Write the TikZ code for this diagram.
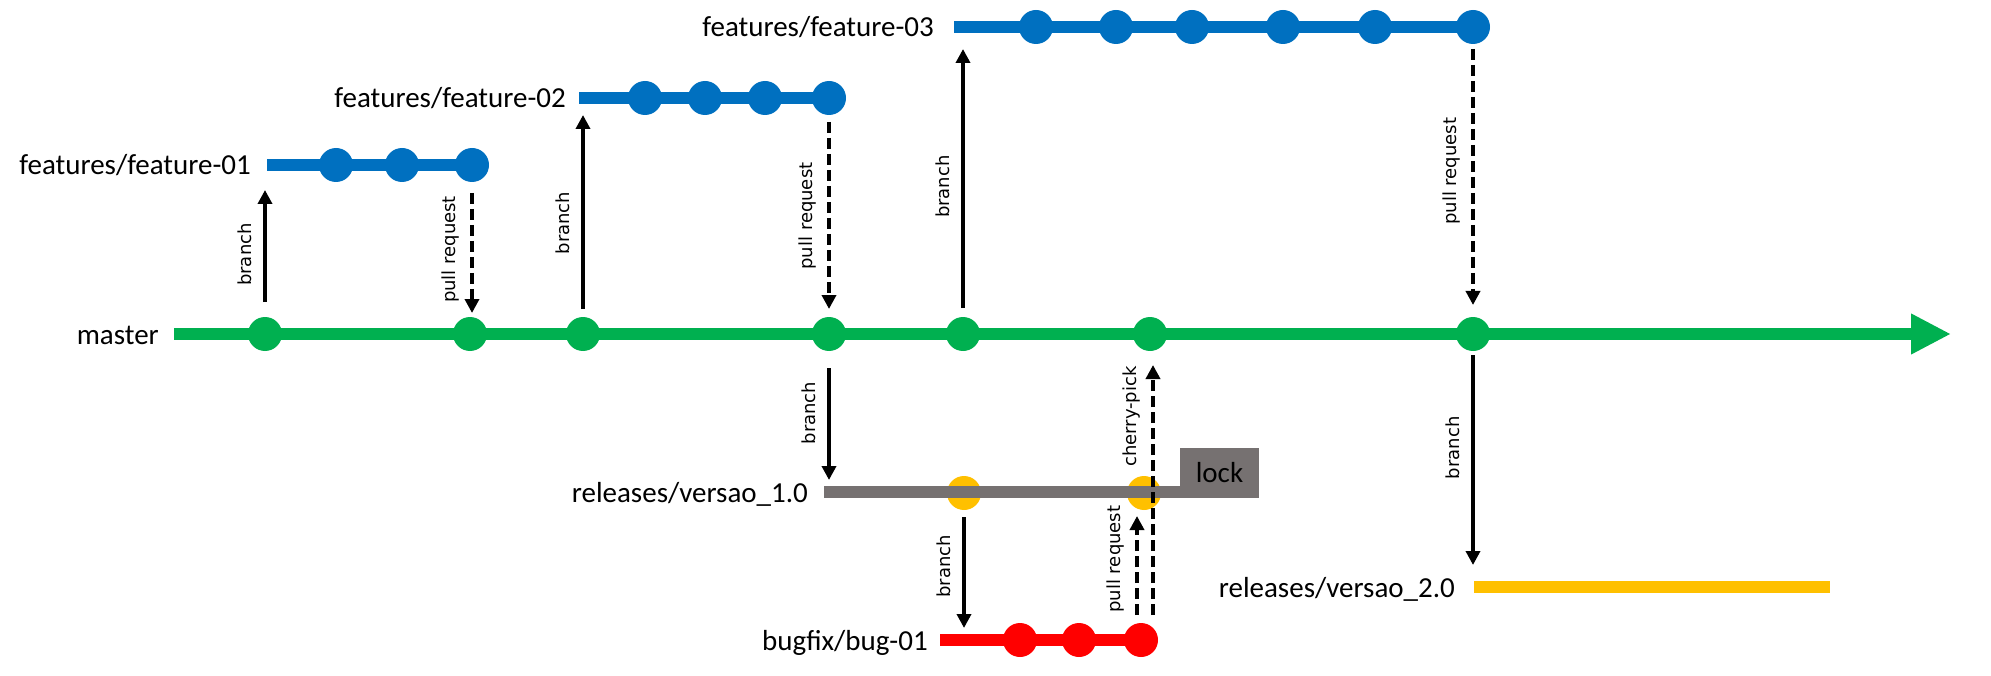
\documentclass[tikz,border=0pt]{standalone}
\usepackage{fontspec}
\setmainfont{Carlito}
\newfontfamily\lblfont{DejaVu Sans}
\usetikzlibrary{arrows.meta, positioning, calc}
\definecolor{gitgreen}{HTML}{00B050}
\definecolor{gitblue}{HTML}{0070C0}
\definecolor{gitred}{HTML}{FF0000}
\definecolor{gityellow}{HTML}{FFC000}
\definecolor{gitgrey}{HTML}{767171}

\begin{document}
\begin{tikzpicture}[x=1pt, y=-1pt,
    dot/.style={circle, inner sep=0pt, minimum size=34pt},
    brname/.style={anchor=base east, inner sep=0pt, font=\fontsize{29}{33}\selectfont},
    lbl/.style={rotate=90, anchor=south, inner xsep=0pt, inner ysep=11pt, font=\lblfont\fontsize{18}{21}\selectfont},
    brarr/.style={line width=4pt, -{Triangle[width=14pt,length=14pt]}},
    prarr/.style={brarr, dash pattern=on 11pt off 5pt}]
    \useasboundingbox (0,0) rectangle (1991,676);

    % master
    \coordinate (ms) at (174,334);
    \coordinate (me) at (1951,334);
    \draw[gitgreen, line width=12pt, -{Triangle[width=38pt,length=40pt]}] (ms) -- (me);
    \foreach \x [count=\i] in {265,470,583,829,963,1150,1473}
        \node[dot, fill=gitgreen] (m\i) at (\x,334) {};
    \node[brname] (mname) at ([xshift=-15pt,yshift=-10pt]ms) {master};

    % features/feature-01
    \coordinate (f1s) at (267,165);
    \foreach \x [count=\i] in {336,402,472}
        \node[dot, fill=gitblue] (fa\i) at (\x,165) {};
    \draw[gitblue, line width=12pt] (f1s) -- (fa3.center);
    \node[brname] (f1name) at ([xshift=-16pt,yshift=-10pt]f1s) {features/feature-01};

    % features/feature-02
    \coordinate (f2s) at (579,98);
    \foreach \x [count=\i] in {645,705,765,829}
        \node[dot, fill=gitblue] (fb\i) at (\x,98) {};
    \draw[gitblue, line width=12pt] (f2s) -- (fb4.center);
    \node[brname] (f2name) at ([xshift=-13pt,yshift=-10pt]f2s) {features/feature-02};

    % features/feature-03
    \coordinate (f3s) at (954,27);
    \foreach \x [count=\i] in {1036,1116,1192,1283,1375,1473}
        \node[dot, fill=gitblue] (fc\i) at (\x,27) {};
    \draw[gitblue, line width=12pt] (f3s) -- (fc6.center);
    \node[brname] (f3name) at ([xshift=-20pt,yshift=-10pt]f3s) {features/feature-03};

    % releases/versao_1.0 (dots under the line)
    \coordinate (r1s) at (824,492);
    \coordinate (r1e) at (1184,492);
    \foreach \x [count=\i] in {964,1144}
        \node[dot, fill=gityellow] (ra\i) at (\x,493) {};
    \draw[gitgrey, line width=12pt] (r1s) -- (r1e);
    \node[brname] (r1name) at ([xshift=-16pt,yshift=-10pt]r1s) {releases/versao\_1.0};
    \node[fill=gitgrey, minimum width=79pt, minimum height=50pt, inner sep=0pt,
        font=\fontsize{29}{33}\selectfont] (lock) at (1219.5,473) {lock};

    % bugfix/bug-01
    \coordinate (bs) at (940,640);
    \foreach \x [count=\i] in {1020,1079,1141}
        \node[dot, fill=gitred] (ba\i) at (\x,640) {};
    \draw[gitred, line width=12pt] (bs) -- (ba3.center);
    \node[brname] (bname) at ([xshift=-12pt,yshift=-10pt]bs) {bugfix/bug-01};

    % releases/versao_2.0
    \coordinate (r2s) at (1474,587);
    \coordinate (r2e) at (1830,587);
    \draw[gityellow, line width=12pt] (r2s) -- (r2e);
    \node[brname] (r2name) at ([xshift=-19pt,yshift=-10pt]r2s) {releases/versao\_2.0};

    % branch / pull request arrows
    \draw[brarr, shorten <=32pt, shorten >=25pt] (m1.center) -- (m1.center |- f1s) node[lbl, pos=0.47] {branch};
    \draw[prarr, shorten <=28pt, shorten >=21pt] (fa3.center) -- (fa3.center |- m2) node[lbl, midway] {pull request};
    \draw[brarr, shorten <=25pt, shorten >=17pt] (m3.center) -- (m3.center |- f2s) node[lbl, pos=0.47] {branch};
    \draw[prarr, shorten <=24pt, shorten >=25pt] (fb4.center) -- (fb4.center |- m4) node[lbl, midway] {pull request};
    \draw[brarr, shorten <=26pt, shorten >=22pt] (m5.center) -- (m5.center |- f3s) node[lbl, pos=0.48] {branch};
    \draw[prarr, shorten <=22pt, shorten >=29pt] (fc6.center) -- (fc6.center |- m7) node[lbl, pos=0.47] {pull request};
    \draw[brarr, shorten <=34pt, shorten >=12pt] (m4.center) -- (m4.center |- r1s) node[lbl, midway] {branch};
    \draw[brarr, shorten <=24pt, shorten >=12pt] (ra1.center) -- (ra1.center |- bs) node[lbl, midway] {branch};
    \draw[brarr, shorten <=21pt, shorten >=22pt] (m7.center) -- (m7.center |- r2s) node[lbl, pos=0.45] {branch};

    % bugfix back to release and master
    \coordinate (prs) at ([xshift=-4pt]ba3.center);
    \coordinate (cps) at ([xshift=12pt]ba3.center);
    \draw[prarr, shorten <=25pt, shorten >=23pt] (prs) -- (prs |- ra2) node[lbl, pos=0.55] {pull request};
    \draw[prarr, shorten <=25pt, shorten >=31pt] (cps) -- (cps |- m6) node[lbl, pos=0.73] {cherry-pick};
\end{tikzpicture}
\end{document}
